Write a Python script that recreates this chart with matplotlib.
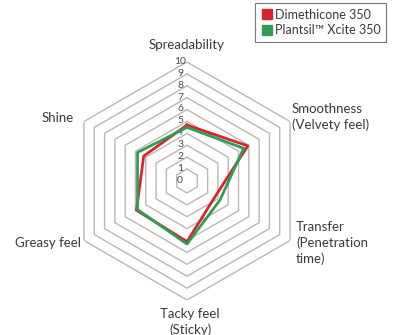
import numpy as np
import matplotlib
matplotlib.use("Agg")
import matplotlib.pyplot as plt
from matplotlib.lines import Line2D

plt.rcParams['font.family'] = ['Lato', 'DejaVu Sans']

# sensory attributes, clockwise from the top
attributes = ['Spreadability', 'Smoothness\n(Velvety feel)', 'Transfer\n(Penetration\ntime)',
              'Tacky feel\n(Sticky)', 'Greasy feel', 'Shine']
dimethicone = [4.7, 5.9, 2.7, 5.1, 4.9, 4.2]
plantsil = [4.5, 5.5, 3.2, 5.3, 4.8, 4.8]
series_names = ['Dimethicone 350', 'Plantsil\u2122 Xcite 350']
scale = list(range(0, 11))

red = '#d7262b'
green = '#2f9c58'
grid_col = '#bdb6b1'
text_col = '#3a3a3a'

W, H = 393, 335
fig = plt.figure(figsize=(W / 100, H / 100), dpi=100)

cx, cy, R = 187, 181, 119
ax = fig.add_axes([(cx - R) / W, (H - cy - R) / H, 2 * R / W, 2 * R / H], polar=True)
ax.set_theta_offset(np.pi / 2)
ax.set_theta_direction(-1)
ax.set_ylim(0, 10)
ax.set_xticks([])
ax.set_yticks([])
ax.grid(False)
ax.spines['polar'].set_visible(False)
ax.patch.set_alpha(0)

n = len(attributes)
theta = np.linspace(0, 2 * np.pi, n, endpoint=False)
theta_c = np.append(theta, theta[0])

# hexagonal rings
for v in scale[1:]:
    ax.plot(theta_c, [v] * (n + 1), color=grid_col, lw=1.0, zorder=1)

# scale numbers up the vertical axis
for v in scale:
    ax.annotate(str(v), xy=(0, v), xytext=(-5, 0.5), textcoords='offset points',
                ha='center', va='center', fontsize=7.5, color='#4a4a4a', zorder=2)

ax.plot(theta_c, dimethicone + dimethicone[:1], color=red, lw=2.0, zorder=3)
ax.plot(theta_c, plantsil + plantsil[:1], color=green, lw=2.0, zorder=4)

# attribute labels around the chart
label_pos = [(187, 45, 'center'), (292, 117, 'left'), (296, 243, 'left'),
             (190, 322, 'center'), (81, 243, 'right'), (58, 118, 'center')]
for name, (x, y, ha) in zip(attributes, label_pos):
    fig.text(x / W, 1 - y / H, name, ha=ha, va='center', fontsize=9.5,
             color=text_col, linespacing=1.3, multialignment=ha)

handles = [Line2D([], [], marker='s', ls='none', color=c, markersize=6.5)
           for c in (red, green)]
leg = fig.legend(handles, series_names, loc='upper right', bbox_to_anchor=(386 / W, 1 - 3 / H),
                 fontsize=9, frameon=True, fancybox=False, edgecolor='#555555',
                 handletextpad=0.1, handlelength=1.0, borderpad=0.45, labelspacing=0.3,
                 borderaxespad=0)
leg.get_frame().set_linewidth(0.8)
for t in leg.get_texts():
    t.set_color(text_col)

fig.savefig('out.png', dpi=100, facecolor='white')
